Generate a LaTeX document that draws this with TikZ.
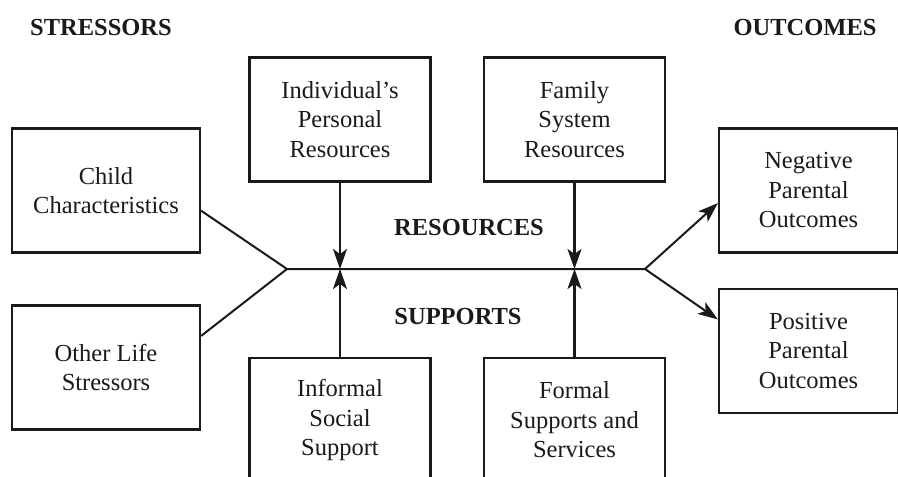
\documentclass[tikz,border=0pt]{standalone}
\usepackage{fontspec}
\setmainfont{Liberation Serif}
\usetikzlibrary{arrows.meta, calc}
\definecolor{cink}{HTML}{1A1A1A}
\tikzset{
  every picture/.style={line width=2pt, x=1pt, y=-1pt},
  box/.style={draw=cink, align=center, inner sep=2pt, minimum width=#1, minimum height=124pt,
    font=\fontsize{24.5}{29.5}\selectfont, text=cink, line width=2.2pt},
  box/.default=181pt,
  arrow/.style={-{Stealth[length=20pt, width=14pt, inset=5pt]}, draw=cink, line width=2.4pt},
  title/.style={font=\fontsize{24.5}{29}\selectfont\bfseries, text=cink},
  link/.style={draw=cink, line width=2pt},
}
\begin{document}
\begin{tikzpicture}
  \useasboundingbox (0,0) rectangle (898,477);
  \clip (0,0) rectangle (898,477);
  \node[title] (stress) at (101, 28) {STRESSORS}; \node[title] (outc) at (805, 28) {OUTCOMES};
  \node[box=188pt] (child) at (106, 190.5) {Child\\Characteristics};
  \node[box=188pt] (other) at (106, 367.5) {Other Life\\Stressors};
  \node[box] (indiv) at (340, 119.5) {Individual's\\Personal\\Resources};
  \node[box] (famsys) at (574.5, 119.5) {Family\\System\\Resources};
  \node[box] (inform) at (340, 420) {Informal\\Social\\Support};
  \node[box] (formal) at (574.5, 420) {Formal\\Supports and\\Services};
  \node[box=179pt] (neg) at (808.5, 190.5) {Negative\\Parental\\Outcomes};
  \node[box=179pt] (pos) at (808.5, 351) {Positive\\Parental\\Outcomes};
  \node[title] (resrc) at (469, 228) {RESOURCES}; \node[title] (supp) at (458, 317) {SUPPORTS};
  % the spine
  \coordinate (jl) at (287, 269); \coordinate (jr) at (645, 269);
  \draw[link] ($(child.north east)!0.66!(child.south east)$) -- (jl) -- (jr);
  \draw[link] ($(other.north east)!0.25!(other.south east)$) -- (jl);
  \draw[arrow, line width=2pt] (jr) -- ($(neg.north west)!0.6!(neg.south west)$);
  \draw[arrow, line width=2pt] (jr) -- ($(pos.north west)!0.25!(pos.south west)$);
  \draw[arrow] (indiv.south) -- (indiv.south |- jl); \draw[arrow] (famsys.south) -- (famsys.south |- jl);
  \draw[arrow] (inform.north) -- (inform.north |- jl); \draw[arrow] (formal.north) -- (formal.north |- jl);
\end{tikzpicture}
\end{document}
